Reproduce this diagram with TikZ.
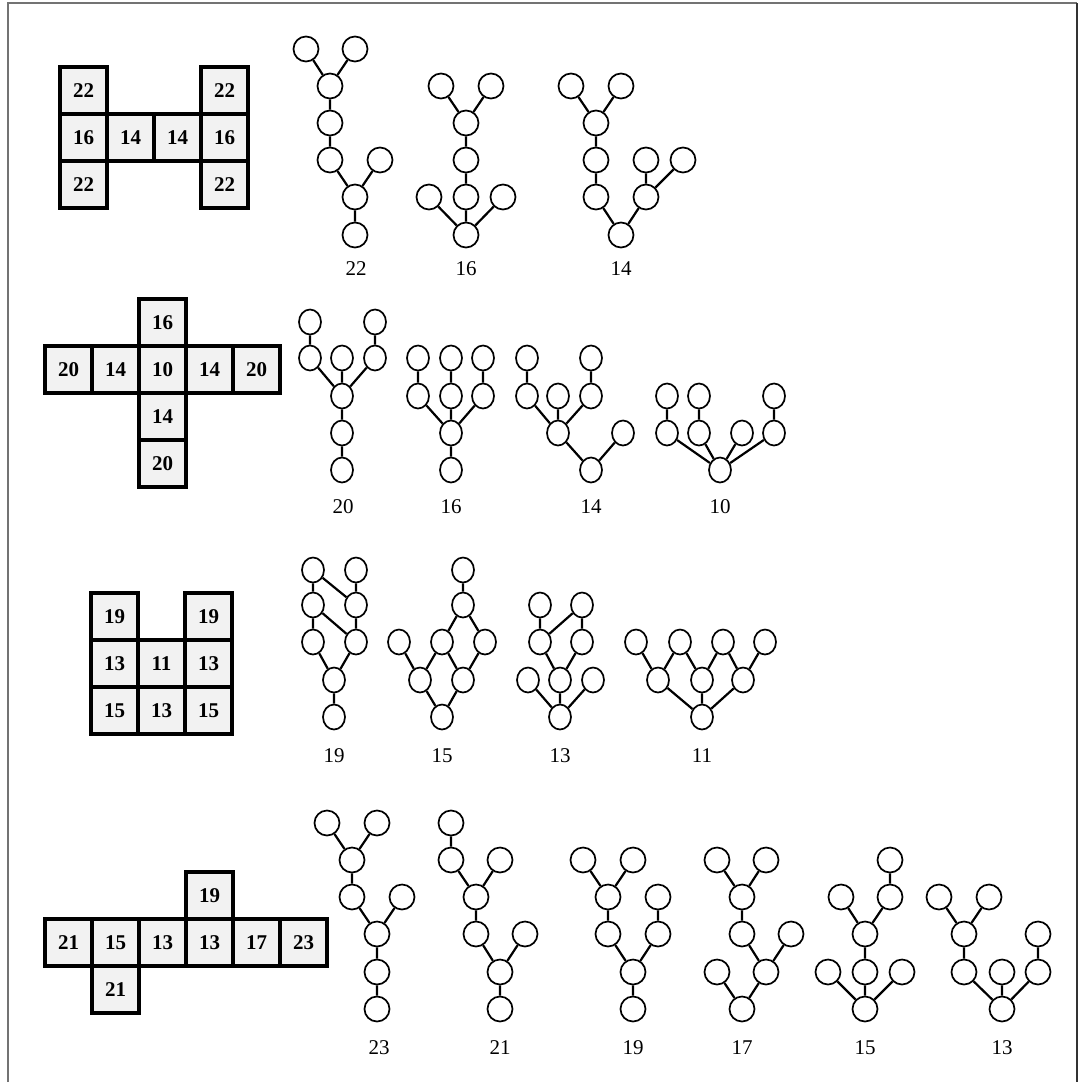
\documentclass[tikz,border=0pt]{standalone}
\usepackage{fontspec}
\setmainfont{Liberation Serif}
\usepackage{tikz}
\usetikzlibrary{shapes.geometric}
\definecolor{cellfill}{HTML}{F2F2F2}
\tikzset{
  cell/.style={rectangle,draw=black,fill=cellfill,line width=1.6pt,
    minimum size=23.5pt,inner sep=0pt,font=\fontsize{10.5}{12}\selectfont\bfseries},
  vx/.style={circle,draw=black,line width=0.85pt,minimum size=12.5pt,inner sep=0pt},
  ov/.style={ellipse,draw=black,line width=0.85pt,minimum width=11pt,
    minimum height=12.5pt,inner sep=0pt},
  ed/.style={draw=black,line width=1.1pt},
  num/.style={font=\fontsize{10.5}{12}\selectfont,inner sep=0pt},
}
\begin{document}
\begin{tikzpicture}[x=0.5pt,y=-0.5pt]
  \useasboundingbox (0,0) rectangle (1086,1082);
  \draw[black!55,line width=0.6pt] (8,1082)--(8,3)--(1077,3);
  \draw[black!80,line width=1pt] (1077,3)--(1077,1082);

  % grids
  \node[cell] (h1) at (83.5,90.5) {22};   \node[cell] (h2) at (224.5,90.5) {22};
  \node[cell] (h3) at (83.5,137.5) {16};  \node[cell] (h4) at (130.5,137.5) {14};
  \node[cell] (h5) at (177.5,137.5) {14}; \node[cell] (h6) at (224.5,137.5) {16};
  \node[cell] (h7) at (83.5,184.5) {22};  \node[cell] (h8) at (224.5,184.5) {22};

  \node[cell] (x1) at (162.5,322.5) {16};
  \node[cell] (x2) at (68.5,369.5) {20};  \node[cell] (x3) at (115.5,369.5) {14};
  \node[cell] (x4) at (162.5,369.5) {10}; \node[cell] (x5) at (209.5,369.5) {14};
  \node[cell] (x6) at (256.5,369.5) {20};
  \node[cell] (x7) at (162.5,416.5) {14};
  \node[cell] (x8) at (162.5,463.5) {20};

  \node[cell] (u1) at (114.5,616.5) {19}; \node[cell] (u2) at (208.5,616.5) {19};
  \node[cell] (u3) at (114.5,663.5) {13}; \node[cell] (u4) at (161.5,663.5) {11};
  \node[cell] (u5) at (208.5,663.5) {13};
  \node[cell] (u6) at (114.5,710.5) {15}; \node[cell] (u7) at (161.5,710.5) {13};
  \node[cell] (u8) at (208.5,710.5) {15};

  \node[cell] (r1) at (209.5,895.5) {19};
  \node[cell] (r2) at (68.5,942.5) {21};  \node[cell] (r3) at (115.5,942.5) {15};
  \node[cell] (r4) at (162.5,942.5) {13}; \node[cell] (r5) at (209.5,942.5) {13};
  \node[cell] (r6) at (256.5,942.5) {17}; \node[cell] (r7) at (303.5,942.5) {23};
  \node[cell] (r8) at (115.5,989.5) {21};

  % row 1
  \node[vx] (t1a) at (306,49) {}; \node[vx] (t1b) at (355,49) {};
  \node[vx] (t1c) at (330,86) {}; \node[vx] (t1d) at (330,123) {};
  \node[vx] (t1e) at (330,160) {}; \node[vx] (t1f) at (380,160) {};
  \node[vx] (t1g) at (355,197) {}; \node[vx] (t1h) at (355,235) {};
  \node[num] (n1) at (356,269) {22};
  \draw[ed] (t1a)--(t1c) (t1b)--(t1c) (t1c)--(t1d) (t1d)--(t1e) (t1e)--(t1g) (t1f)--(t1g) (t1g)--(t1h);

  \node[vx] (t2a) at (441,86) {}; \node[vx] (t2b) at (491,86) {};
  \node[vx] (t2c) at (466,123) {}; \node[vx] (t2d) at (466,160) {};
  \node[vx] (t2e) at (466,197) {}; \node[vx] (t2f) at (429,197) {};
  \node[vx] (t2g) at (503,197) {}; \node[vx] (t2h) at (466,235) {};
  \node[num] (n2) at (466,269) {16};
  \draw[ed] (t2a)--(t2c) (t2b)--(t2c) (t2c)--(t2d) (t2d)--(t2e) (t2e)--(t2h) (t2f)--(t2h) (t2g)--(t2h);

  \node[vx] (t3a) at (571,86) {}; \node[vx] (t3b) at (621,86) {};
  \node[vx] (t3c) at (596,123) {}; \node[vx] (t3d) at (596,160) {};
  \node[vx] (t3e) at (596,197) {}; \node[vx] (t3f) at (646,160) {};
  \node[vx] (t3g) at (683,160) {}; \node[vx] (t3h) at (646,197) {};
  \node[vx] (t3i) at (621,235) {};
  \node[num] (n3) at (621,269) {14};
  \draw[ed] (t3a)--(t3c) (t3b)--(t3c) (t3c)--(t3d) (t3d)--(t3e) (t3e)--(t3i) (t3h)--(t3i) (t3f)--(t3h) (t3g)--(t3h);

  % row 2
  \node[ov] (t4a) at (310,322) {}; \node[ov] (t4b) at (310,358) {};
  \node[ov] (t4c) at (342,358) {}; \node[ov] (t4d) at (375,322) {};
  \node[ov] (t4e) at (375,358) {}; \node[ov] (t4f) at (342,396) {};
  \node[ov] (t4g) at (342,433) {}; \node[ov] (t4h) at (342,470) {};
  \node[num] (n4) at (343,507) {20};
  \draw[ed] (t4a)--(t4b) (t4d)--(t4e) (t4b)--(t4f) (t4c)--(t4f) (t4e)--(t4f) (t4f)--(t4g) (t4g)--(t4h);

  \node[ov] (t5a) at (418,358) {}; \node[ov] (t5b) at (451,358) {};
  \node[ov] (t5c) at (483,358) {}; \node[ov] (t5d) at (418,396) {};
  \node[ov] (t5e) at (451,396) {}; \node[ov] (t5f) at (483,396) {};
  \node[ov] (t5g) at (451,433) {}; \node[ov] (t5h) at (451,470) {};
  \node[num] (n5) at (451,507) {16};
  \draw[ed] (t5a)--(t5d) (t5b)--(t5e) (t5c)--(t5f) (t5d)--(t5g) (t5e)--(t5g) (t5f)--(t5g) (t5g)--(t5h);

  \node[ov] (t6a) at (527,358) {}; \node[ov] (t6b) at (527,396) {};
  \node[ov] (t6c) at (591,358) {}; \node[ov] (t6d) at (591,396) {};
  \node[ov] (t6e) at (558,396) {}; \node[ov] (t6f) at (558,433) {};
  \node[ov] (t6g) at (623,433) {}; \node[ov] (t6h) at (591,470) {};
  \node[num] (n6) at (591,507) {14};
  \draw[ed] (t6a)--(t6b) (t6c)--(t6d) (t6b)--(t6f) (t6e)--(t6f) (t6d)--(t6f) (t6f)--(t6h) (t6g)--(t6h);

  \node[ov] (t7a) at (667,396) {}; \node[ov] (t7b) at (667,433) {};
  \node[ov] (t7c) at (699,396) {}; \node[ov] (t7d) at (699,433) {};
  \node[ov] (t7e) at (742,433) {}; \node[ov] (t7f) at (774,396) {};
  \node[ov] (t7g) at (774,433) {}; \node[ov] (t7h) at (720,470) {};
  \node[num] (n7) at (720,507) {10};
  \draw[ed] (t7a)--(t7b) (t7c)--(t7d) (t7f)--(t7g) (t7b)--(t7h) (t7d)--(t7h) (t7e)--(t7h) (t7g)--(t7h);

  % row 3
  \node[ov] (t8a) at (313,570) {}; \node[ov] (t8b) at (356,570) {};
  \node[ov] (t8c) at (313,605) {}; \node[ov] (t8d) at (356,605) {};
  \node[ov] (t8e) at (313,642) {}; \node[ov] (t8f) at (356,642) {};
  \node[ov] (t8g) at (334,680) {}; \node[ov] (t8h) at (334,717) {};
  \node[num] (n8) at (334,756) {19};
  \draw[ed] (t8a)--(t8c) (t8c)--(t8e) (t8b)--(t8d) (t8d)--(t8f) (t8a)--(t8d) (t8c)--(t8f) (t8e)--(t8g) (t8f)--(t8g) (t8g)--(t8h);

  \node[ov] (t9a) at (463,570) {}; \node[ov] (t9b) at (463,605) {};
  \node[ov] (t9c) at (399,642) {}; \node[ov] (t9d) at (442,642) {};
  \node[ov] (t9e) at (485,642) {}; \node[ov] (t9f) at (420,680) {};
  \node[ov] (t9g) at (463,680) {}; \node[ov] (t9h) at (442,717) {};
  \node[num] (n9) at (442,756) {15};
  \draw[ed] (t9a)--(t9b) (t9b)--(t9d) (t9b)--(t9e) (t9c)--(t9f) (t9d)--(t9f) (t9d)--(t9g) (t9e)--(t9g) (t9f)--(t9h) (t9g)--(t9h);

  \node[ov] (t10a) at (540,605) {}; \node[ov] (t10b) at (582,605) {};
  \node[ov] (t10c) at (540,642) {}; \node[ov] (t10d) at (582,642) {};
  \node[ov] (t10e) at (528,680) {}; \node[ov] (t10f) at (560,680) {};
  \node[ov] (t10g) at (593,680) {}; \node[ov] (t10h) at (560,717) {};
  \node[num] (n10) at (560,756) {13};
  \draw[ed] (t10a)--(t10c) (t10b)--(t10d) (t10c)--(t10b) (t10c)--(t10f) (t10d)--(t10f) (t10e)--(t10h) (t10f)--(t10h) (t10g)--(t10h);

  \node[ov] (t11a) at (636,642) {}; \node[ov] (t11b) at (680,642) {};
  \node[ov] (t11c) at (723,642) {}; \node[ov] (t11d) at (765,642) {};
  \node[ov] (t11e) at (658,680) {}; \node[ov] (t11f) at (702,680) {};
  \node[ov] (t11g) at (743,680) {}; \node[ov] (t11h) at (702,717) {};
  \node[num] (n11) at (702,756) {11};
  \draw[ed] (t11a)--(t11e) (t11b)--(t11e) (t11b)--(t11f) (t11c)--(t11f) (t11c)--(t11g) (t11d)--(t11g) (t11e)--(t11h) (t11f)--(t11h) (t11g)--(t11h);

  % row 4
  \node[vx] (t12a) at (327,823) {}; \node[vx] (t12b) at (377,823) {};
  \node[vx] (t12c) at (352,860) {}; \node[vx] (t12d) at (352,897) {};
  \node[vx] (t12e) at (402,897) {}; \node[vx] (t12f) at (377,934) {};
  \node[vx] (t12g) at (377,972) {}; \node[vx] (t12h) at (377,1009) {};
  \node[num] (n12) at (379,1048) {23};
  \draw[ed] (t12a)--(t12c) (t12b)--(t12c) (t12c)--(t12d) (t12d)--(t12f) (t12e)--(t12f) (t12f)--(t12g) (t12g)--(t12h);

  \node[vx] (t13a) at (451,823) {}; \node[vx] (t13b) at (451,860) {};
  \node[vx] (t13c) at (500,860) {}; \node[vx] (t13d) at (476,897) {};
  \node[vx] (t13e) at (476,934) {}; \node[vx] (t13f) at (525,934) {};
  \node[vx] (t13g) at (500,972) {}; \node[vx] (t13h) at (500,1009) {};
  \node[num] (n13) at (500,1048) {21};
  \draw[ed] (t13a)--(t13b) (t13b)--(t13d) (t13c)--(t13d) (t13d)--(t13e) (t13e)--(t13g) (t13f)--(t13g) (t13g)--(t13h);

  \node[vx] (t14a) at (583,860) {}; \node[vx] (t14b) at (633,860) {};
  \node[vx] (t14c) at (608,897) {}; \node[vx] (t14d) at (608,934) {};
  \node[vx] (t14e) at (658,897) {}; \node[vx] (t14f) at (658,934) {};
  \node[vx] (t14g) at (633,972) {}; \node[vx] (t14h) at (633,1009) {};
  \node[num] (n14) at (633,1048) {19};
  \draw[ed] (t14a)--(t14c) (t14b)--(t14c) (t14c)--(t14d) (t14e)--(t14f) (t14d)--(t14g) (t14f)--(t14g) (t14g)--(t14h);

  \node[vx] (t15a) at (717,860) {}; \node[vx] (t15b) at (766,860) {};
  \node[vx] (t15c) at (742,897) {}; \node[vx] (t15d) at (742,934) {};
  \node[vx] (t15e) at (791,934) {}; \node[vx] (t15f) at (766,972) {};
  \node[vx] (t15g) at (717,972) {}; \node[vx] (t15h) at (742,1009) {};
  \node[num] (n15) at (742,1048) {17};
  \draw[ed] (t15a)--(t15c) (t15b)--(t15c) (t15c)--(t15d) (t15d)--(t15f) (t15e)--(t15f) (t15f)--(t15h) (t15g)--(t15h);

  \node[vx] (t16a) at (890,860) {}; \node[vx] (t16b) at (890,897) {};
  \node[vx] (t16c) at (841,897) {}; \node[vx] (t16d) at (865,934) {};
  \node[vx] (t16e) at (865,972) {}; \node[vx] (t16f) at (828,972) {};
  \node[vx] (t16g) at (902,972) {}; \node[vx] (t16h) at (865,1009) {};
  \node[num] (n16) at (865,1048) {15};
  \draw[ed] (t16a)--(t16b) (t16b)--(t16d) (t16c)--(t16d) (t16d)--(t16e) (t16e)--(t16h) (t16f)--(t16h) (t16g)--(t16h);

  \node[vx] (t17a) at (939,897) {}; \node[vx] (t17b) at (989,897) {};
  \node[vx] (t17c) at (964,934) {}; \node[vx] (t17d) at (964,972) {};
  \node[vx] (t17e) at (1002,972) {}; \node[vx] (t17f) at (1038,934) {};
  \node[vx] (t17g) at (1038,972) {}; \node[vx] (t17h) at (1002,1009) {};
  \node[num] (n17) at (1002,1048) {13};
  \draw[ed] (t17a)--(t17c) (t17b)--(t17c) (t17c)--(t17d) (t17d)--(t17h) (t17e)--(t17h) (t17f)--(t17g) (t17g)--(t17h);
\end{tikzpicture}
\end{document}
